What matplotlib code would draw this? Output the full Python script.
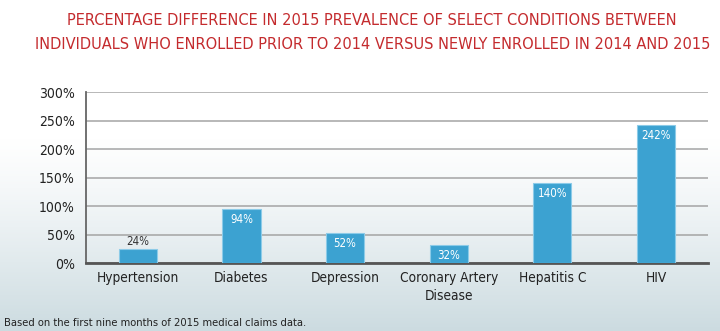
import numpy as np
import matplotlib
matplotlib.use("Agg")
import matplotlib.pyplot as plt

categories = ["Hypertension", "Diabetes", "Depression", "Coronary Artery\nDisease", "Hepatitis C", "HIV"]
values = [24, 94, 52, 32, 140, 242]
yticks = [0, 50, 100, 150, 200, 250, 300]
title = ("PERCENTAGE DIFFERENCE IN 2015 PREVALENCE OF SELECT CONDITIONS BETWEEN\n"
         "INDIVIDUALS WHO ENROLLED PRIOR TO 2014 VERSUS NEWLY ENROLLED IN 2014 AND 2015")
note = "Based on the first nine months of 2015 medical claims data."

plt.rcParams["font.family"] = ["DejaVu Sans"]
plt.rcParams["font.stretch"] = "condensed"

fig = plt.figure(figsize=(7.2, 3.31), dpi=100)

# soft vertical background gradient
bg = fig.add_axes([0, 0, 1, 1], zorder=-10)
g = np.linspace(0, 1, 256)
g = np.clip((g - 0.42) / 0.58, 0, 1) ** 1.2
top = np.array([1.0, 1.0, 1.0])
bot = np.array([0.80, 0.86, 0.88])
img = top[None, :] * (1 - g[:, None]) + bot[None, :] * g[:, None]
bg.imshow(img[:, None, :], aspect="auto", extent=[0, 1, 0, 1], origin="upper")
bg.set_axis_off()

ax = fig.add_axes([0.1194, 0.2054, 0.8636, 0.5166])
ax.patch.set_alpha(0)
x = np.arange(len(categories))
ax.bar(x, values, width=0.37, color="#3CA2D1", edgecolor="#8CCBE8", linewidth=0.8, zorder=3)

for xi, v in zip(x, values):
    if v < 30:
        ax.text(xi, v + 3, f"{v}%", ha="center", va="bottom", fontsize=8.3, color="#333333", zorder=4)
    else:
        ax.text(xi, v - 7, f"{v}%", ha="center", va="top", fontsize=8.3, color="white", zorder=4)

ax.set_xlim(-0.5, len(categories) - 0.5)
ax.set_ylim(0, 300)
ax.set_yticks(yticks)
ax.set_yticklabels([f"{t}%" for t in yticks], fontsize=10, color="#222222")
ax.set_xticks(x)
ax.set_xticklabels(categories, fontsize=9.8, color="#222222", linespacing=1.35)
ax.tick_params(axis="both", length=0)
ax.tick_params(axis="x", pad=6)
ax.tick_params(axis="y", pad=8)
ax.yaxis.grid(True, color="#a4a4a4", linewidth=1.1, zorder=0)
ax.set_axisbelow(True)
for s in ["top", "right"]:
    ax.spines[s].set_visible(False)
ax.spines["left"].set_color("#666666")
ax.spines["left"].set_linewidth(1.3)
ax.spines["bottom"].set_color("#555555")
ax.spines["bottom"].set_linewidth(2)

fig.text(0.517, 0.902, title, ha="center", va="center", fontsize=11.7, color="#C42B2E",
         linespacing=1.7)
fig.text(0.006, 0.008, note, ha="left", va="bottom", fontsize=8, color="#222222")

fig.savefig("out.png", dpi=100)
